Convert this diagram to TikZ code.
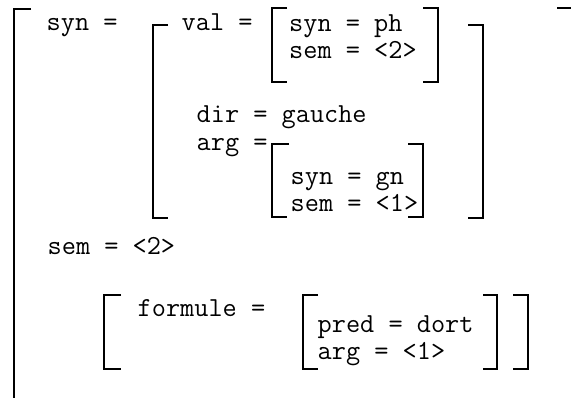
\documentclass[tikz,border=0pt]{standalone}
\usepackage{fontspec}
\begin{document}
\begin{tikzpicture}[x=1pt,y=-1pt,
  txt/.style={anchor=base west,inner sep=0pt,font=\fontsize{27.5}{32}\selectfont\ttfamily},
  brk/.style={line width=2pt,line cap=butt}]
\useasboundingbox (0,0) rectangle (571,398);
% outer bracket
\draw[brk] (31,9) -- (14,9) -- (14,399);
\draw[brk] (557,8) -- (571,8);
% texts
\node[txt] (syn) at (46.5,31) {syn =};
\node[txt] (val) at (181.5,31) {val =};
\node[txt] (synph) at (289,31.5) {syn = ph};
\node[txt] (sem2a) at (289,59) {sem = <2>};
\node[txt] (dir) at (196.5,122.5) {dir = gauche};
\node[txt] (arg) at (196.5,151) {arg =};
\node[txt] (syngn) at (290.5,185) {syn = gn};
\node[txt] (sem1) at (290.5,212) {sem = <1>};
\node[txt] (sem2b) at (47.5,255) {sem = <2>};
\node[txt] (form) at (137.5,317) {formule =};
\node[txt] (pred) at (317.5,333) {pred = dort};
\node[txt] (arg1) at (317.5,360) {arg = <1>};
% syn value bracket
\draw[brk] (168,25) -- (153,25) -- (153,218) -- (168,218);
\draw[brk] (468,25) -- (483,25) -- (483,218) -- (468,218);
% val bracket
\draw[brk] (287,8) -- (272,8) -- (272,82) -- (287,82);
\draw[brk] (423,8) -- (438,8) -- (438,82) -- (423,82);
% arg bracket
\draw[brk] (289,144) -- (272,144) -- (272,217) -- (287,217);
\draw[brk] (408,144) -- (423,144) -- (423,217) -- (408,217);
% formule bracket
\draw[brk] (121,295) -- (104,295) -- (104,369) -- (121,369);
\draw[brk] (513,295) -- (528,295) -- (528,369) -- (513,369);
% pred bracket
\draw[brk] (318,295) -- (303,295) -- (303,369) -- (318,369);
\draw[brk] (483,295) -- (497,295) -- (497,369) -- (483,369);
\end{tikzpicture}
\end{document}
